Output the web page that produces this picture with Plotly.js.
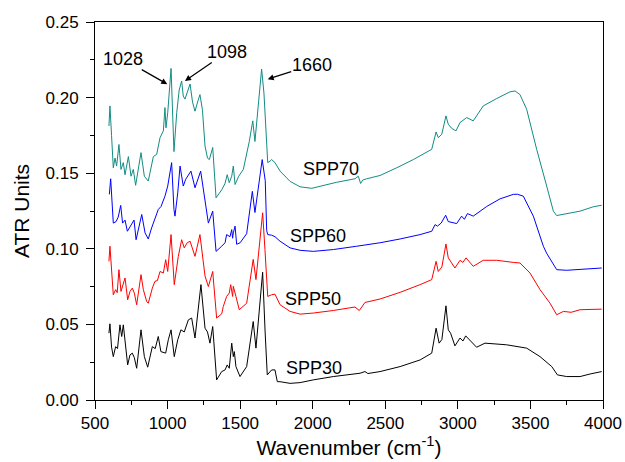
<!DOCTYPE html>
<html>
<head>
<meta charset="utf-8">
<script src="https://cdn.plot.ly/plotly-3.0.1.min.js"></script>
<style>html,body{margin:0;padding:0;background:#fff;}#chart{width:625px;height:462px;}</style>
</head>
<body>
<div id="chart"></div>
<script>
// SPP70 (teal)
const wn70 = [596,603,614,626,638,649,665,679,695,707,730,748,764,780,817,840,867,902,925,948,971,982,989,1001,1024,1044,1063,1080,1097,1108,1120,1132,1155,1172,1189,1210,1223,1240,1258,1275,1288,1311,1320,1334,1373,1395,1411,1425,1442,1453,1465,1490,1522,1545,1563,1587,1602,1625,1648,1664,1678,1690,1706,1717,1740,1775,1844,1913,1993,2073,2165,2291,2314,2330,2345,2372,2464,2579,2693,2820,2836,2850,2865,2889,2918,2934,2957,2987,3015,3033,3061,3106,3175,3268,3359,3394,3428,3474,3543,3612,3658,3681,3750,3842,3933,3991];
const atr70 = [0.1812,0.1945,0.175,0.1536,0.160,0.1547,0.169,0.1525,0.157,0.149,0.161,0.148,0.1525,0.142,0.1636,0.148,0.1448,0.161,0.1625,0.1735,0.178,0.1934,0.180,0.190,0.2193,0.1643,0.190,0.205,0.211,0.201,0.199,0.203,0.209,0.197,0.191,0.198,0.202,0.192,0.168,0.160,0.159,0.167,0.155,0.1337,0.139,0.143,0.149,0.1437,0.148,0.1547,0.1425,0.148,0.1525,0.162,0.171,0.1846,0.171,0.195,0.2188,0.203,0.175,0.157,0.158,0.159,0.157,0.1514,0.1446,0.141,0.140,0.142,0.144,0.1463,0.148,0.1432,0.1455,0.1463,0.1485,0.1536,0.159,0.1658,0.1724,0.1773,0.1735,0.1757,0.1879,0.1824,0.1797,0.178,0.1835,0.1846,0.1868,0.1846,0.1945,0.1994,0.2038,0.2044,0.202,0.1923,0.1658,0.1415,0.1249,0.122,0.1233,0.1249,0.1278,0.1288];

// SPP60 (blue)
const wn60 = [599,608,626,645,660,677,690,707,723,745,769,783,822,845,867,890,936,955,982,1001,1017,1028,1044,1051,1070,1086,1108,1125,1161,1189,1228,1258,1281,1311,1334,1373,1396,1407,1430,1442,1448,1453,1465,1476,1500,1545,1584,1602,1625,1652,1673,1683,1690,1717,1740,1775,1844,1913,2004,2142,2303,2464,2602,2740,2820,2843,2859,2885,2916,2934,2992,3026,3045,3066,3106,3199,3290,3382,3410,3451,3520,3543,3589,3612,3681,3750,3842,3933,3991];
const atr60 = [0.136,0.1463,0.117,0.118,0.121,0.1287,0.117,0.119,0.1116,0.115,0.119,0.106,0.1227,0.1105,0.1065,0.1138,0.126,0.128,0.1348,0.1415,0.150,0.157,0.126,0.1216,0.137,0.1547,0.1415,0.146,0.1514,0.1404,0.1514,0.130,0.117,0.1249,0.0983,0.1017,0.104,0.1094,0.108,0.1127,0.107,0.1105,0.115,0.103,0.104,0.110,0.138,0.124,0.140,0.159,0.145,0.112,0.1094,0.109,0.108,0.105,0.1006,0.099,0.0983,0.0995,0.1017,0.104,0.1065,0.1094,0.1116,0.116,0.115,0.117,0.1222,0.118,0.1167,0.1216,0.1195,0.1233,0.1216,0.128,0.133,0.136,0.1361,0.1348,0.1216,0.115,0.1017,0.097,0.0862,0.0858,0.0862,0.0867,0.0873];

// SPP50 (red)
const wn50 = [596,603,626,642,653,665,679,695,707,725,741,757,771,787,817,833,856,867,895,913,930,948,971,987,1001,1024,1046,1074,1097,1115,1135,1155,1189,1223,1258,1281,1311,1338,1373,1384,1407,1425,1435,1448,1453,1471,1494,1545,1590,1609,1630,1655,1671,1690,1717,1740,1775,1844,1913,2004,2142,2291,2321,2360,2464,2602,2740,2820,2850,2865,2890,2918,2934,2957,2980,3015,3035,3056,3106,3175,3268,3382,3428,3497,3566,3635,3681,3727,3780,3842,3933,3991];
const atr50 = [0.0917,0.1017,0.0696,0.073,0.071,0.0862,0.0718,0.077,0.0807,0.0663,0.0718,0.074,0.0707,0.063,0.0829,0.073,0.0652,0.064,0.074,0.0785,0.079,0.085,0.084,0.0928,0.085,0.1094,0.0763,0.095,0.106,0.1006,0.104,0.105,0.095,0.1094,0.082,0.075,0.085,0.0542,0.057,0.0619,0.0685,0.0707,0.0763,0.0685,0.0752,0.0685,0.0597,0.064,0.093,0.0796,0.100,0.1238,0.0995,0.0685,0.0696,0.0700,0.063,0.0586,0.0568,0.0575,0.0592,0.0615,0.0592,0.0645,0.0668,0.0712,0.0763,0.0796,0.0917,0.085,0.088,0.1032,0.094,0.0906,0.0873,0.0924,0.091,0.094,0.0884,0.0924,0.0924,0.091,0.0906,0.084,0.073,0.064,0.0564,0.0586,0.058,0.0597,0.0601,0.0601];

// SPP30 (black)
const wn30 = [596,603,614,626,642,655,672,684,695,710,725,741,757,771,787,817,840,863,895,915,936,954,987,1005,1024,1046,1070,1092,1115,1143,1166,1189,1230,1258,1275,1292,1311,1338,1373,1396,1411,1425,1442,1453,1460,1471,1499,1545,1590,1609,1630,1655,1672,1687,1717,1740,1756,1775,1844,1913,2004,2142,2326,2360,2380,2464,2602,2740,2820,2850,2871,2890,2918,2934,2950,2980,3015,3035,3054,3129,3187,3336,3474,3566,3647,3686,3750,3842,3911,3991];
const atr30 = [0.0442,0.0504,0.035,0.0287,0.0353,0.034,0.0497,0.042,0.0497,0.035,0.0232,0.0298,0.031,0.028,0.021,0.0464,0.0287,0.0217,0.0353,0.034,0.042,0.032,0.031,0.0398,0.0464,0.0287,0.0398,0.0464,0.045,0.053,0.0542,0.041,0.0763,0.0475,0.045,0.0376,0.0486,0.0133,0.0188,0.0199,0.0232,0.021,0.0376,0.0287,0.032,0.0221,0.0155,0.0221,0.0519,0.0343,0.055,0.0845,0.045,0.0166,0.0199,0.0199,0.0121,0.0121,0.011,0.0115,0.0133,0.0155,0.0177,0.0188,0.0175,0.0188,0.0221,0.0265,0.031,0.0475,0.0376,0.040,0.0623,0.0464,0.0442,0.0358,0.041,0.039,0.0424,0.0349,0.0376,0.0365,0.0343,0.0287,0.0221,0.0166,0.0155,0.0155,0.0172,0.0188];

const seriesNames = ['SPP30','SPP50','SPP60','SPP70'];
const seriesColors = ['#000000','#ff0000','#0000ff','#128c84'];
const xs = [wn30, wn50, wn60, wn70];
const ys = [atr30, atr50, atr60, atr70];

// series label positions (data coords)
const labelX = [2011, 2004, 2033, 2123];
const labelY = [0.021, 0.067, 0.1083, 0.1525];

// peak annotations: arrow head in data coords, text offset in pixels
const peakText = ['1028','1098','1660'];
const arrowHeadX = [998, 1120, 1690];
const arrowHeadY = [0.2089, 0.211, 0.2122];
const textAx = [-44, 42, 44];
const textAy = [-25, -29, -14];

const FONT = 'Liberation Sans, Arial, sans-serif';

const traces = xs.map((x, i) => ({
  x: x, y: ys[i], type: 'scatter', mode: 'lines', name: seriesNames[i],
  line: {color: seriesColors[i], width: 1}
}));

const annotations = [];
seriesNames.forEach((n, i) => annotations.push({
  x: labelX[i], y: labelY[i], xref: 'x', yref: 'y', text: n, showarrow: false,
  font: {family: FONT, size: 18, color: '#000'}
}));
peakText.forEach((t, i) => {
  annotations.push({x: arrowHeadX[i], y: arrowHeadY[i], xref: 'x', yref: 'y', text: t, showarrow: true,
    ax: textAx[i], ay: textAy[i], arrowhead: 2, arrowsize: 1, arrowwidth: 1.2, arrowcolor: '#000',
    borderpad: 0, font: {family: FONT, size: 18, color: '#000'}});
});

const axisCommon = {
  showline: true, linecolor: '#000', linewidth: 1, mirror: true,
  showgrid: false, zeroline: false, ticks: 'outside', ticklen: 8, tickwidth: 1, tickcolor: '#000',
  tickfont: {family: FONT, size: 17, color: '#000'}
};

const layout = {
  width: 625, height: 462,
  margin: {l: 95, r: 22, t: 22, b: 62},
  paper_bgcolor: '#fff', plot_bgcolor: '#fff',
  showlegend: false,
  font: {family: FONT, color: '#000'},
  xaxis: Object.assign({}, axisCommon, {
    range: [500, 4000], tick0: 500, dtick: 500,
    minor: {ticks: 'outside', ticklen: 4, tick0: 500, dtick: 250, tickcolor: '#000', showgrid: false},
    title: {text: 'Wavenumber (cm<sup>-1</sup>)', font: {family: FONT, size: 21, color: '#000'}, standoff: 6}
  }),
  yaxis: Object.assign({}, axisCommon, {
    range: [0, 0.25], tick0: 0, dtick: 0.05, tickformat: '.2f', ticklabelstandoff: 4,
    minor: {ticks: 'outside', ticklen: 4, tick0: 0, dtick: 0.025, tickcolor: '#000', showgrid: false},
    title: {text: 'ATR Units', font: {family: FONT, size: 21, color: '#000'}, standoff: 10}
  }),
  annotations: annotations
};

Plotly.newPlot('chart', traces, layout, {displayModeBar: false, staticPlot: true});
</script>
</body>
</html>
